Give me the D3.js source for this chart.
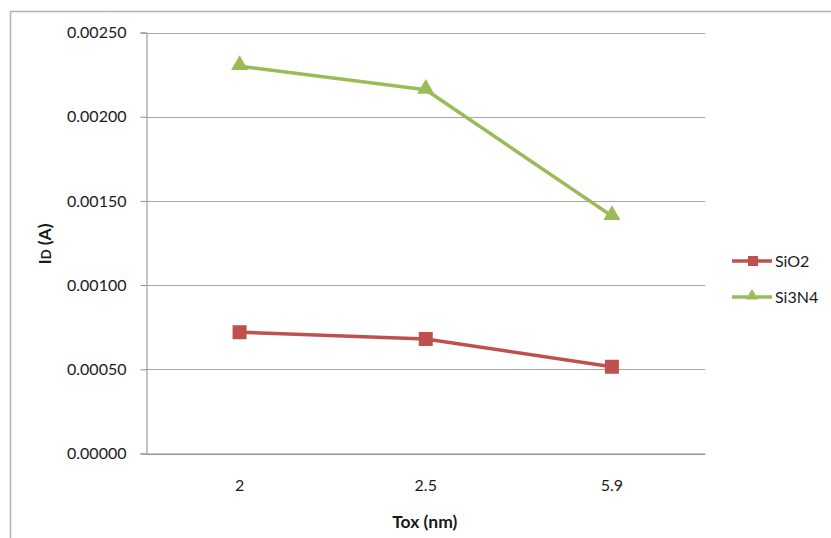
<!DOCTYPE html>
<html>
<head>
<meta charset="utf-8">
<script src="https://cdn.jsdelivr.net/npm/d3@7"></script>
<style>
  html, body { margin: 0; padding: 0; background: #fff; }
  svg { display: block; font-family: Lato, "Open Sans", sans-serif; }
</style>
</head>
<body>
<svg id="chart" width="831" height="538"></svg>
<script>
// Drain current vs. oxide thickness for two gate dielectrics
const categories = ["2", "2.5", "5.9"];
const sio2 = [0.00072, 0.00068, 0.000515];
const si3n4 = [0.0023, 0.00216, 0.00141];
const yTicks = [0, 0.0005, 0.001, 0.0015, 0.002, 0.0025];
const seriesNames = ["SiO2", "Si3N4"];
const seriesColors = ["#C0504D", "#9BBB59"];

const svg = d3.select("#chart");
const plot = { left: 146.5, right: 705, top: 32.5, bottom: 453.5 };

// Outer chart frame
svg.append("rect")
  .attr("x", 10.5).attr("y", 11.5)
  .attr("width", 900).attr("height", 600)
  .attr("fill", "none").attr("stroke", "#b3b3b3").attr("stroke-width", 1.5);

const x = d3.scaleBand().domain(categories).range([plot.left, plot.right]);
const y = d3.scaleLinear().domain([0, 0.0025]).range([plot.bottom, plot.top]);

// Horizontal gridlines
svg.append("g")
  .selectAll("line")
  .data(yTicks)
  .join("line")
  .attr("x1", plot.left).attr("x2", plot.right)
  .attr("y1", d => Math.round(y(d)) + 0.5).attr("y2", d => Math.round(y(d)) + 0.5)
  .attr("stroke", "#a6a6a6").attr("stroke-width", 1);

// Y axis
const yAxis = d3.axisLeft(y).tickValues(yTicks).tickFormat(d3.format(".5f")).tickSize(6).tickPadding(14);
const gy = svg.append("g").attr("transform", `translate(${plot.left},0)`).call(yAxis);
gy.select(".domain").attr("stroke", "#8c8c8c");
gy.selectAll(".tick line").attr("stroke", "#8c8c8c");
gy.selectAll(".tick text").attr("font-size", 16).attr("fill", "#1a1a1a").attr("font-family", "Lato, sans-serif");

// X axis
const xAxis = d3.axisBottom(x).tickSize(0).tickPadding(26);
const gx = svg.append("g").attr("transform", `translate(0,${plot.bottom})`).call(xAxis);
gx.select(".domain").attr("stroke", "#8c8c8c");
gx.selectAll(".tick text").attr("font-size", 16).attr("fill", "#1a1a1a").attr("font-family", "Lato, sans-serif");

// Axis titles
svg.append("text")
  .attr("x", plot.left + (plot.right - plot.left) / 2 - 1).attr("y", 528)
  .attr("text-anchor", "middle").attr("font-size", 17.5).attr("font-weight", "bold").attr("fill", "#1a1a1a")
  .text("Tox (nm)");

const yt = svg.append("text")
  .attr("transform", `translate(51,${(plot.top + plot.bottom) / 2 + 1}) rotate(-90)`)
  .attr("text-anchor", "middle").attr("font-size", 17.5).attr("font-weight", "bold").attr("fill", "#1a1a1a");
yt.append("tspan").text("I");
yt.append("tspan").attr("font-size", 13).text("D");
yt.append("tspan").text(" (A)");

const line = d3.line().x((d, i) => x(categories[i]) + x.bandwidth() / 2).y(d => y(d));
const allSeries = [sio2, si3n4];
const triangle = d3.symbol().type(d3.symbolTriangle).size(125);

allSeries.forEach((vals, s) => {
  svg.append("path")
    .attr("d", line(vals))
    .attr("fill", "none").attr("stroke", seriesColors[s]).attr("stroke-width", 3.5)
    .attr("stroke-linejoin", "round");
  const pts = svg.append("g").selectAll("g").data(vals).join("g")
    .attr("transform", (d, i) => `translate(${x(categories[i]) + x.bandwidth() / 2},${y(d)})`);
  if (s === 0) {
    pts.append("rect").attr("x", -7).attr("y", -7).attr("width", 14).attr("height", 14)
      .attr("fill", seriesColors[s]);
  } else {
    pts.append("path").attr("d", triangle).attr("transform", "translate(0,-1)").attr("fill", seriesColors[s]);
  }
});

// Legend
const legendY = [261, 297];
seriesNames.forEach((name, s) => {
  const g = svg.append("g").attr("transform", `translate(732,${legendY[s]})`);
  g.append("line").attr("x1", 0).attr("x2", 40).attr("y1", 0).attr("y2", 0)
    .attr("stroke", seriesColors[s]).attr("stroke-width", 3.5);
  if (s === 0) {
    g.append("rect").attr("x", 16).attr("y", -5).attr("width", 10).attr("height", 10).attr("fill", seriesColors[s]);
  } else {
    g.append("path").attr("d", d3.symbol().type(d3.symbolTriangle).size(65)).attr("transform", "translate(20,-1)")
      .attr("fill", seriesColors[s]);
  }
  g.append("text").attr("x", 43).attr("y", 6).attr("font-size", 16).attr("fill", "#1a1a1a").text(name);
});
</script>
</body>
</html>
